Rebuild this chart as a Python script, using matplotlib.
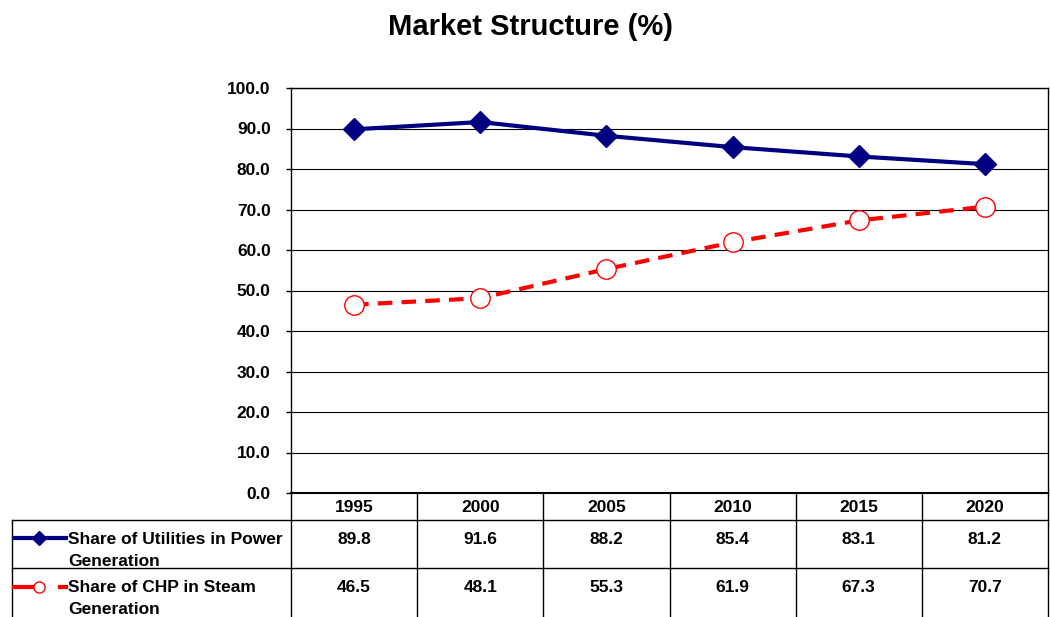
import matplotlib
matplotlib.use("Agg")
import matplotlib.pyplot as plt
from matplotlib.lines import Line2D

plt.rcParams['font.family'] = ['Liberation Sans', 'DejaVu Sans']
plt.rcParams['font.weight'] = 'bold'

years = ['1995', '2000', '2005', '2010', '2015', '2020']
utilities = [89.8, 91.6, 88.2, 85.4, 83.1, 81.2]
chp = [46.5, 48.1, 55.3, 61.9, 67.3, 70.7]
series_names = ['Share of Utilities in Power\nGeneration',
                'Share of CHP in Steam\nGeneration']

W, H = 1050, 617
FS = 12.5
fig = plt.figure(figsize=(W / 100, H / 100), dpi=100)

# plot area in pixels
left, right, top, bottom = 291, 1048, 88, 493
ax = fig.add_axes([left / W, 1 - bottom / H, (right - left) / W, (bottom - top) / H])

x = list(range(len(years)))
ax.plot(x, utilities, color='#000080', lw=3, marker='D', ms=11,
        markerfacecolor='#000080', markeredgecolor='#000080', zorder=3)
ax.plot(x, chp, color='#FF0000', lw=3, ls=(0, (3.5, 2.2)), marker='o', ms=14,
        markerfacecolor='white', markeredgecolor='#FF0000', markeredgewidth=1,
        zorder=3)

ax.set_xlim(-0.5, len(years) - 0.5)
ax.set_ylim(0, 100)
ax.set_yticks(range(0, 101, 10))
ax.set_yticklabels(['%.1f' % v for v in range(0, 101, 10)], fontsize=FS, fontweight='bold')
ax.set_xticks([])
ax.yaxis.grid(True, color='black', lw=0.8)
ax.tick_params(axis='y', length=3.6, width=1, pad=11, color='black')
for s in ax.spines.values():
    s.set_color('black')
    s.set_linewidth(1)
ax.spines['bottom'].set_linewidth(1.5)

fig.suptitle('Market Structure (%)', x=530 / W, y=1 - 27 / H, va='center',
             fontsize=21, fontweight='bold')

# data table below the plot, drawn in pixel space
tab = fig.add_axes([0, 0, 1, 1])
tab.set_xlim(0, W)
tab.set_ylim(H, 0)
tab.axis('off')
tab.patch.set_alpha(0)

row_h = [493, 520, 568, 617]
tbl_left = 12
lc = 'black'
lw = 1
col_edges = [ax.transData.transform((i - 0.5, 0))[0] for i in range(len(years) + 1)]
centers = [ax.transData.transform((i, 0))[0] for i in x]

tab.plot([tbl_left, right], [row_h[1]] * 2, color=lc, lw=lw)
tab.plot([tbl_left, right], [row_h[2]] * 2, color=lc, lw=lw)
tab.plot([tbl_left, tbl_left], [row_h[1], H], color=lc, lw=lw)
for e in col_edges:
    tab.plot([e, e], [row_h[0], H], color=lc, lw=lw)

for c, yr in zip(centers, years):
    tab.text(c, 507, yr, ha='center', va='center', fontsize=FS, fontweight='bold')
for c, a, b in zip(centers, utilities, chp):
    tab.text(c, 539, '%.1f' % a, ha='center', va='center', fontsize=FS, fontweight='bold')
    tab.text(c, 587, '%.1f' % b, ha='center', va='center', fontsize=FS, fontweight='bold')

# legend keys in the table
tab.add_line(Line2D([14, 66], [538, 538], color='#000080', lw=3))
tab.plot([39], [538], marker='D', ms=7, color='#000080')
tab.add_line(Line2D([14, 34], [587, 587], color='#FF0000', lw=3))
tab.add_line(Line2D([60, 66], [587, 587], color='#FF0000', lw=3))
tab.plot([39], [587], marker='o', ms=8, markerfacecolor='white',
         markeredgecolor='#FF0000', markeredgewidth=1)

for name, y0 in zip(series_names, [539, 588]):
    for k, line in enumerate(name.split('\n')):
        tab.text(68, y0 + 22 * k, line, ha='left', va='center', fontsize=FS,
                 fontweight='bold')

fig.savefig('out.png', dpi=100)
